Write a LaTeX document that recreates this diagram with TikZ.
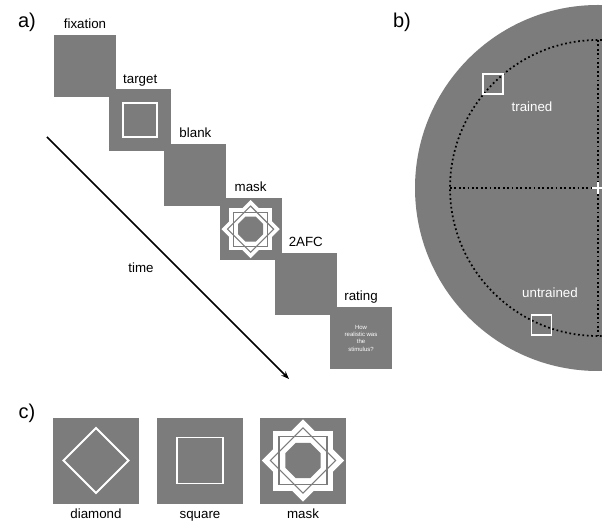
\documentclass[tikz,border=0pt]{standalone}
\usepackage{fontspec}
\setmainfont{Liberation Sans}
\usetikzlibrary{positioning,arrows.meta}
\definecolor{panelgray}{RGB}{124,124,124}

\tikzset{
  maskstar/.pic={
    % white eight point star
    \fill[white] (-30,-30) rectangle (30,30);
    \fill[white,rotate=45] (-29,-29) rectangle (29,29);
    % thin gray outlines
    \draw[panelgray,line width=0.8pt] (-24,-24) rectangle (24,24);
    \draw[panelgray,line width=0.8pt,rotate=45] (-23,-23) rectangle (23,23);
    % gray octagon
    \fill[panelgray] (22.5:19) \foreach \a in {67.5,112.5,...,337.5} {-- (\a:19)} -- cycle;
  }
}

\begin{document}
\begin{tikzpicture}[x=0.75pt,y=0.75pt,yscale=-1,xscale=1,
  trialbox/.style={fill=panelgray,minimum size=46.5pt,inner sep=0pt},
  stimbox/.style={fill=panelgray,minimum size=64.5pt,inner sep=0pt},
  steplabel/.style={font=\fontsize{10}{12}\selectfont,inner sep=0.75pt,text height=1.5ex,text depth=0.3ex},
  panellabel/.style={font=\fontsize{15}{18}\selectfont,inner sep=0.75pt},
  outline/.style={draw=white,line width=1.4pt,inner sep=0pt},
  probe/.style={draw=white,line width=1.3pt,minimum size=15pt,inner sep=0pt}
]
\useasboundingbox (0,0) rectangle (602,523);

%%% panel a
\node[panellabel] (la) at (27,22) {a)};

% Trial boxes
\node[trialbox] (fix) at (85,66) {};
\node[trialbox] (tgt) at (140.2,120.4) {};
\node[trialbox] (blk) at (195.4,174.8) {};
\node[trialbox] (msk) at (250.6,229.2) {};
\node[trialbox] (afc) at (305.8,283.6) {};
\node[trialbox] (rate) at (361,338) {};

% Text Node
\node[steplabel, above=2pt of fix] (fixtxt) {fixation};
\node[steplabel, above=2pt of tgt] (tgttxt) {target};
\node[steplabel, above=2pt of blk] (blktxt) {blank};
\node[steplabel, above=2pt of msk] (msktxt) {mask};
\node[steplabel, above=2pt of afc] (afctxt) {2AFC};
\node[steplabel, above=2pt of rate] (ratetxt) {rating};

% target square and mask
\node[outline, minimum size=25.5pt] (tgtsq) at (tgt) {};
\pic[scale=0.71] at (msk) {maskstar};
\node[white, align=center, font=\fontsize{4.5}{5.5}\selectfont] (question) at (rate) {How\\realistic was\\the\\stimulus?};

% time arrow
\coordinate (tstart) at (47,137);
\coordinate (tend) at (289,379);
\draw[line width=1.3pt, -{Stealth[length=6pt,width=4.5pt]}] (tstart) -- (tend);
\node[steplabel] (timetxt) at (141,268) {time};

%%% panel b
\node[panellabel] (lb) at (402,22) {b)};
\begin{scope}
\clip (0,0) rectangle (602,523);
\fill[panelgray] (598,188) circle [radius=183];
\draw[line width=1.3pt, dash pattern=on 1.3pt off 2pt] (598,188) circle [radius=148];
\draw[line width=1.3pt, dash pattern=on 1.3pt off 2pt] (450,188) -- (598,188);
\draw[line width=1.3pt, dash pattern=on 1.3pt off 2pt] (598,40) -- (598,336);
\end{scope}
\coordinate (fixpt) at (598,188);
\draw[white, line width=1pt] ([xshift=-4.5pt]fixpt) -- ([xshift=4.5pt]fixpt) ([yshift=-4.5pt]fixpt) -- ([yshift=4.5pt]fixpt);

\node[probe] (trainsq) at (493,84) {};
\node[probe] (untrainsq) at (541.5,325) {};
% Text Node
\node[steplabel, white] (traintxt) at (532,107) {trained};
\node[steplabel, white] (untraintxt) at (550,293) {untrained};

%%% panel c
\node[panellabel] (lc) at (27,413) {c)};
\node[stimbox] (dia) at (96,460.5) {};
\node[stimbox] (sqr) at (200,460.5) {};
\node[stimbox] (mskc) at (303,460.5) {};

\node[outline, minimum size=34.5pt, rotate=45] (diasq) at (dia) {};
\node[outline, minimum size=34.5pt] (sqrsq) at (sqr) {};
\pic at (mskc) {maskstar};

% Text Node
\node[steplabel, below=2.5pt of dia] (diatxt) {diamond};
\node[steplabel, below=2.5pt of sqr] (sqrtxt) {square};
\node[steplabel, below=2.5pt of mskc] (mskctxt) {mask};

\end{tikzpicture}
\end{document}
